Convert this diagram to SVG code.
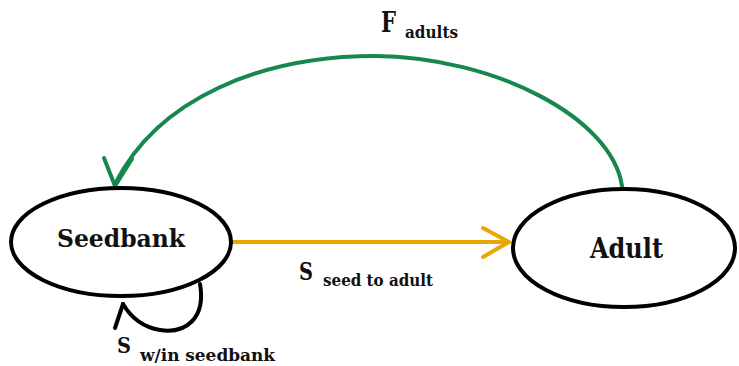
<svg xmlns="http://www.w3.org/2000/svg" width="739" height="366" viewBox="0 0 739 366">
<style>
.node{fill:#ffffff;stroke:#000000;stroke-width:4}
.lbl{font-family:'DejaVu Serif Condensed','DejaVu Serif',serif;font-weight:bold;fill:#111111}
.edge{fill:none;stroke-width:4;stroke-linecap:round;stroke-linejoin:round}
.green{stroke:#16884d}
.yellow{stroke:#e9a800}
.black{stroke:#000000}
</style>
<rect width="739" height="366" fill="#ffffff"/>
<g id="connectors">
  <g id="edge-fadults">
    <path class="edge green" d="M622,186 C612,118 495,57 375,56 C262,56 158,98 115,184"/>
    <path class="edge green" stroke-width="5" d="M104,158 L115,186 L132,159"/>
    <text class="lbl" x="381" y="32" font-size="27" textLength="15" lengthAdjust="spacingAndGlyphs">F</text>
    <text class="lbl" x="405" y="38" font-size="16" textLength="53" lengthAdjust="spacingAndGlyphs">adults</text>
  </g>
  <g id="edge-seed-to-adult">
    <path class="edge yellow" d="M232,242 L508,242"/>
    <path class="edge yellow" d="M483,228 L509,242 L483,257"/>
    <text class="lbl" x="299" y="280" font-size="25" textLength="14" lengthAdjust="spacingAndGlyphs">S</text>
    <text class="lbl" x="323" y="286" font-size="16" textLength="110" lengthAdjust="spacingAndGlyphs">seed to adult</text>
  </g>
  <g id="edge-self">
    <path class="edge black" d="M200,284 C206,318 186,334 160,330 C142,327 130,316 123,304"/>
    <path class="edge black" d="M123,304 L115,328"/>
    <text class="lbl" x="117" y="353" font-size="22" textLength="14" lengthAdjust="spacingAndGlyphs">S</text>
    <text class="lbl" x="140" y="361" font-size="16" textLength="135" lengthAdjust="spacingAndGlyphs">w/in  seedbank</text>
  </g>
</g>
<g id="node-seedbank">
  <ellipse class="node" cx="121" cy="242" rx="110" ry="54"/>
  <text class="lbl" x="57" y="247" font-size="25" textLength="128" lengthAdjust="spacingAndGlyphs">Seedbank</text>
</g>
<g id="node-adult">
  <ellipse class="node" cx="624" cy="248" rx="111" ry="59"/>
  <text class="lbl" x="590" y="258" font-size="27" textLength="73" lengthAdjust="spacingAndGlyphs">Adult</text>
</g>
</svg>
